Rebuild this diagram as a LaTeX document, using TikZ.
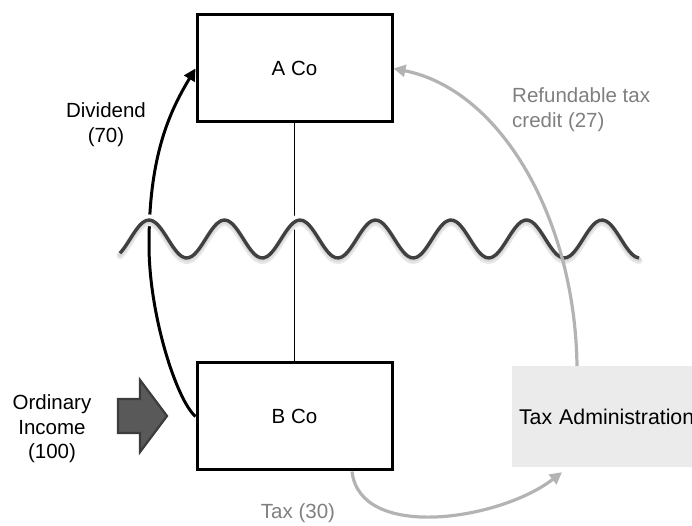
\documentclass[tikz,border=0pt]{standalone}
\usepackage{fontspec}
\setmainfont{Liberation Sans}
\usetikzlibrary{arrows.meta}
\definecolor{wavecol}{HTML}{404040}
\definecolor{flowgray}{HTML}{B3B3B3}
\definecolor{labelgray}{HTML}{7F7F7F}
\definecolor{adminfill}{HTML}{EBEBEB}
\definecolor{blockfill}{HTML}{595959}
\definecolor{blockedge}{HTML}{3C3C3C}
\tikzset{
  txt/.style={font=\fontsize{20.5}{24.5}\selectfont},
  company/.style={txt, draw=black, line width=3pt, fill=white,
    minimum width=195pt, minimum height=107pt, inner sep=0pt},
  adminbox/.style={font=\fontsize{21.3}{25}\selectfont, fill=adminfill,
    text width=181pt, inner xsep=7pt, inner ysep=0pt, minimum height=101pt,
    align=left},
  lbl/.style={txt, align=center, inner sep=0pt},
  graylbl/.style={txt, text=labelgray, inner sep=0pt},
  divflow/.style={line width=3pt, -{Triangle[length=12pt,width=12pt]}},
  taxflow/.style={draw=flowgray, line width=3.2pt,
    -{Triangle[length=12pt,width=12pt]}},
}
% border wave: period 75.5, crest at x=149
\newcommand{\wavepath}{plot[domain=120:639, samples=160, smooth]
  (\x,{287+19*cos(4.7682*(\x-149))})}
\begin{document}
\begin{tikzpicture}[x=1pt,y=1pt]
\useasboundingbox (0,0) rectangle (692,526);
\clip (0,0) rectangle (692,526);

% entities
\node[company] (A) at (294.5,457.5) {A Co};
\node[company] (B) at (294.5,109.5) {B Co};
\node[adminbox] (taxadm) at (609.5,109.5) {Tax Administration};

% ownership link
\draw[line width=1.8pt] (A.south) -- (B.north);

% dividend from B Co up to A Co
\coordinate (divleft) at (149,281);
\draw[divflow] (B.west) .. controls +(139:25) and +(-90:70) .. (divleft)
  .. controls +(90:90) and +(239:50) .. (A.west);

% border wave with soft shadow
\draw[white, line width=11pt] \wavepath;
\draw[gray!18, line width=7pt, line cap=round, yshift=-2.5pt] \wavepath;
\draw[gray!30, line width=4.5pt, line cap=round, yshift=-1.5pt] \wavepath;
\draw[wavecol, line width=3.4pt] \wavepath;

% tax paid and refundable credit
\coordinate (taxout) at ([xshift=57.5pt]B.south);
\coordinate (taxin) at ([xshift=-47.5pt,yshift=-5pt]taxadm.south);
\draw[taxflow] (taxout) .. controls +(8,-70) and +(-62,-48) .. (taxin);
\coordinate (refout) at ([xshift=-32.5pt]taxadm.north);
\draw[taxflow] (refout) .. controls +(-2,146) and +(108,-21.5) .. (A.east);

% ordinary income block arrow
\filldraw[fill=blockfill, draw=blockedge, line width=2.2pt, line join=miter]
  (118,93) -- (140,93) -- (140,74) -- (167,110) -- (140,146) -- (140,127)
  -- (118,127) -- cycle;

% labels
\node[lbl] (divlbl) at (106,401.5) {Dividend\\(70)};
\node[lbl] (inclbl) at (52,97) {Ordinary\\Income\\(100)};
\node[graylbl, anchor=west, align=left] (reflbl) at (512,416.5)
  {Refundable tax\\credit (27)};
\node[graylbl] (taxlbl) at (298,13) {Tax (30)};
\end{tikzpicture}
\end{document}
